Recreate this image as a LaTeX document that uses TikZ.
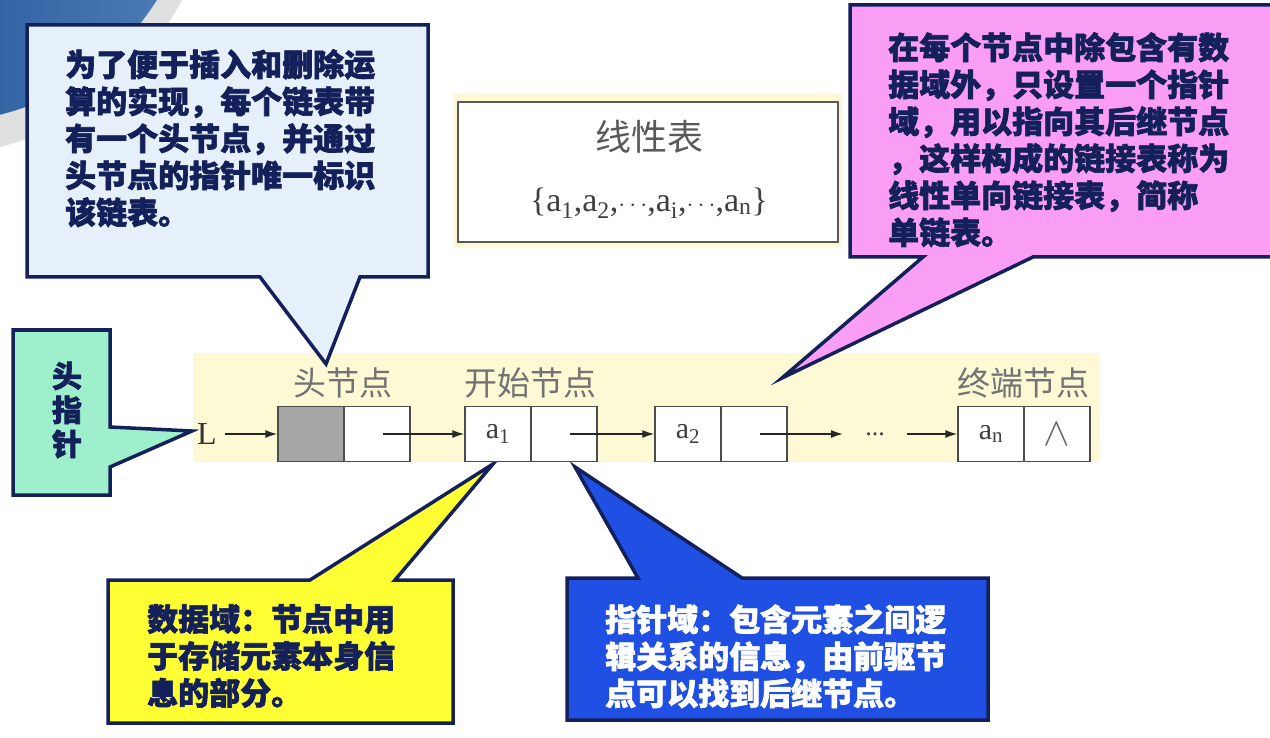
\documentclass[tikz,border=0pt]{standalone}
\usepackage{fontspec}
\usepackage{xcolor}
\usepackage{graphicx}
\usetikzlibrary{arrows.meta}
\newfontfamily\cjk{Noto Sans CJK SC}[BoldFeatures={FakeBold=2}]
\newfontfamily\tms{Liberation Serif}
\definecolor{navy}{HTML}{14205A}
\definecolor{cpale}{HTML}{E6F0FA}
\definecolor{cpink}{HTML}{FA9EF5}
\definecolor{cmint}{HTML}{9EEFCB}
\definecolor{cyell}{HTML}{FFFF33}
\definecolor{croyal}{HTML}{1F4FE3}
\definecolor{cstrip}{HTML}{FCF9D4}
\definecolor{deepblue}{HTML}{0A3886}
\definecolor{steelblue}{HTML}{4F80B8}

\begin{document}
\begin{tikzpicture}[x=1pt,y=-1pt,
  callout/.style={draw=navy, line width=3.5pt, line join=miter},
  txt/.style={anchor=north west, inner sep=0pt, align=left, text=navy,
              font=\cjk\bfseries\fontsize{31}{37}\selectfont},
  lbl/.style={text=black!55, inner sep=0pt, font=\cjk\fontsize{33}{33}\selectfont},
  lnk/.style={-{Latex[length=12pt,width=8pt]}, line width=1.7pt, black!85}]
  \useasboundingbox (0,0) rectangle (1270,738);
  \fill[cstrip] (193,353) rectangle (1100,462);
  \fill[cstrip] (453,93) rectangle (842,247);
 \begin{scope}
  \clip (0,0) rectangle (1270,738);
  \fill[black!12] (-60,-150) ellipse [x radius=278, y radius=304];
  \shade[left color=deepblue, right color=steelblue] (-60,-150) ellipse [x radius=260, y radius=272];
  \draw[callout, fill=cpink] (850,5) -- (1290,5) -- (1290,257) -- (1033,257)
     -- (782,378) -- (923,257) -- (850,257) -- cycle;
 \end{scope}
  \node[draw=black!65, line width=2.5pt, fill=white, minimum width=380pt,
        minimum height=140pt] (set) at (648,172) {};
  \node[lbl, text=black!65, font=\cjk\fontsize{36}{36}\selectfont] (settitle) at (649,137) {线性表};
  \node[inner sep=0pt, text=black!75, font=\tms\fontsize{34}{34}\selectfont] (setbody) at (649,203)
     {\{a\textsubscript{1},a\textsubscript{2},$\cdots$,a\textsubscript{i},$\cdots$,a\textsubscript{n}\}};
  \draw[callout, fill=cpale] (27,25) -- (428,25) -- (428,277) -- (360,277)
     -- (326,364) -- (260,277) -- (27,277) -- cycle;
  \draw[callout, fill=cmint] (13,330) -- (110,330) -- (110,427) -- (192,431)
     -- (110,467) -- (110,495) -- (13,495) -- cycle;
  \draw[callout, fill=cyell] (108,580) -- (310,580) -- (493,464) -- (395,580)
     -- (453,580) -- (453,723) -- (108,723) -- cycle;
  \draw[callout, fill=croyal] (567,578) -- (638,578) -- (575,467) -- (742,578)
     -- (988,578) -- (988,720) -- (567,720) -- cycle;
  \node[txt] (headnote) at (65,49) {为了便于插入和删除运\\算的实现，每个链表带\\有一个头节点，并通过\\头节点的指针唯一标识\\该链表。};
  \node[txt] (listnote) at (888,32) {在每个节点中除包含有数\\据域外，只设置一个指针\\域，用以指向其后继节点\\，这样构成的链接表称为\\线性单向链接表，简称\\单链表。};
  \node[txt, anchor=center, align=center, font=\cjk\bfseries\fontsize{30}{34}\selectfont] (headptr) at (67,410) {头\\指\\针};
  \node[txt] (datanote) at (147,604) {数据域：节点中用\\于存储元素本身信\\息的部分。};
  \node[txt, text=white] (ptrnote) at (605,604) {指针域：包含元素之间逻\\辑关系的信息，由前驱节\\点可以找到后继节点。};
  \node[lbl] (lhead) at (343,383) {头节点};
  \node[lbl] (lstart) at (530,383) {开始节点};
  \node[lbl] (lend) at (1023,383) {终端节点};
 \begin{scope}[every node/.style={draw=black!70, line width=1.3pt, fill=white, minimum width=66pt,
               minimum height=55pt, inner sep=0pt, text=black!75, font=\tms\fontsize{30}{30}\selectfont}]
  \node[fill=black!35] (h) at (311,434) {};
  \node (hp) at (377,434) {};
  \node (a1) at (498,434) {a\textsubscript{1}};
  \node (a1p) at (564,434) {};
  \node (a2) at (688,434) {a\textsubscript{2}};
  \node (a2p) at (754,434) {};
  \node (an) at (991,434) {a\textsubscript{n}};
  \node[text=black!60] (anp) at (1057,434) {\scalebox{1.6}{$\wedge$}};
 \end{scope}
  \node[inner sep=0pt, text=black!80, font=\tms\fontsize{32}{32}\selectfont] (L) at (207,434) {L};
  \node[inner xsep=22pt, inner ysep=0pt, text=black!75, font=\tms\fontsize{26}{26}\selectfont] (dots) at (875,434) {...};
  \path [lnk] ([xshift=8pt]L.east) edge (h.west);
  \path [lnk] ([xshift=6pt]hp.center) edge (a1.west);
  \path [lnk] ([xshift=6pt]a1p.center) edge (a2.west);
  \path [lnk] ([xshift=6pt]a2p.center) edge (dots.west);
  \path [lnk] (dots.east) edge (an.west);
\end{tikzpicture}
\end{document}
